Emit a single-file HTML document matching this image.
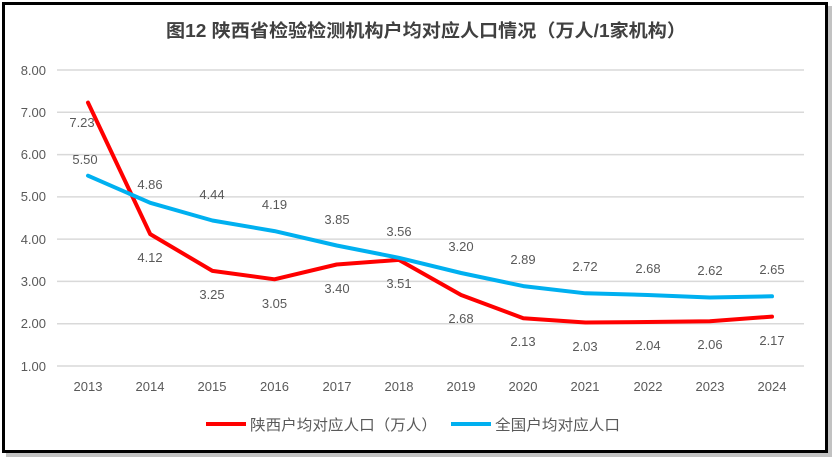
<!DOCTYPE html>
<html><head><meta charset="utf-8"><style>
body{margin:0;background:#fff;}
svg{display:block;}
text{font-family:"Liberation Sans","Noto Sans CJK SC",sans-serif;fill:#595959;font-size:13px;}
</style></head><body>
<svg width="838" height="463" viewBox="0 0 838 463">
<rect x="6" y="6" width="826" height="451" fill="#9a9a9a" opacity="0.6"/>
<rect x="3.5" y="3.5" width="823" height="448" fill="#fff" stroke="#000" stroke-width="3"/>
<text x="166" y="37" textLength="520" lengthAdjust="spacingAndGlyphs" style="font-size:18px;font-weight:bold;fill:#404040">图12  陕西省检验检测机构户均对应人口情况（万人/1家机构）</text>
<g stroke="#d9d9d9" stroke-width="1.5">
<line x1="57" y1="70" x2="804" y2="70"/><line x1="57" y1="112.3" x2="804" y2="112.3"/>
<line x1="57" y1="154.6" x2="804" y2="154.6"/><line x1="57" y1="196.9" x2="804" y2="196.9"/>
<line x1="57" y1="239.1" x2="804" y2="239.1"/><line x1="57" y1="281.4" x2="804" y2="281.4"/>
<line x1="57" y1="323.7" x2="804" y2="323.7"/><line x1="57" y1="366" x2="804" y2="366"/>
</g>
<g text-anchor="end">
<text x="46" y="75">8.00</text><text x="46" y="117">7.00</text><text x="46" y="159">6.00</text>
<text x="46" y="201">5.00</text><text x="46" y="244">4.00</text><text x="46" y="286">3.00</text>
<text x="46" y="328">2.00</text><text x="46" y="371">1.00</text>
</g>
<g text-anchor="middle">
<text x="88" y="391">2013</text><text x="150" y="391">2014</text><text x="212" y="391">2015</text>
<text x="274.5" y="391">2016</text><text x="337" y="391">2017</text><text x="399" y="391">2018</text>
<text x="461" y="391">2019</text><text x="523" y="391">2020</text><text x="585" y="391">2021</text>
<text x="648" y="391">2022</text><text x="710" y="391">2023</text><text x="772" y="391">2024</text>
</g>
<polyline fill="none" stroke="#ff0000" stroke-width="4" stroke-linejoin="round" stroke-linecap="round" points="88,102.6 150.2,234.1 212.4,270.9 274.5,279.3 336.7,264.5 398.9,259.9 461.1,295 523.3,318.2 585.4,322.5 647.6,322 709.8,321.2 772,316.6"/>
<polyline fill="none" stroke="#00b0f0" stroke-width="4" stroke-linejoin="round" stroke-linecap="round" points="88,175.7 150.2,202.8 212.4,220.5 274.5,231.1 336.7,245.5 398.9,257.8 461.1,273 523.3,286.1 585.4,293.3 647.6,295 709.8,297.5 772,296.3"/>
<g text-anchor="middle">
<text x="82" y="127">7.23</text><text x="150" y="262">4.12</text><text x="212" y="299">3.25</text>
<text x="274.5" y="308">3.05</text><text x="337" y="293">3.40</text><text x="399" y="288">3.51</text>
<text x="461" y="323">2.68</text><text x="523" y="346">2.13</text><text x="585" y="351">2.03</text>
<text x="648" y="350">2.04</text><text x="710" y="349">2.06</text><text x="772" y="345">2.17</text>
<text x="85" y="164">5.50</text><text x="150" y="189">4.86</text><text x="212" y="199">4.44</text>
<text x="274.5" y="209">4.19</text><text x="337" y="224">3.85</text><text x="399" y="236">3.56</text>
<text x="461" y="251">3.20</text><text x="523" y="264">2.89</text><text x="585" y="271">2.72</text>
<text x="648" y="273">2.68</text><text x="710" y="275">2.62</text><text x="772" y="274">2.65</text>
</g>
<line x1="206" y1="424" x2="246" y2="424" stroke="#ff0000" stroke-width="4"/>
<text x="250" y="430" textLength="187" lengthAdjust="spacingAndGlyphs" style="font-size:15px">陕西户均对应人口（万人）</text>
<line x1="451" y1="424" x2="491" y2="424" stroke="#00b0f0" stroke-width="4"/>
<text x="495" y="430" textLength="125" lengthAdjust="spacingAndGlyphs" style="font-size:15px">全国户均对应人口</text>
</svg>
</body></html>
